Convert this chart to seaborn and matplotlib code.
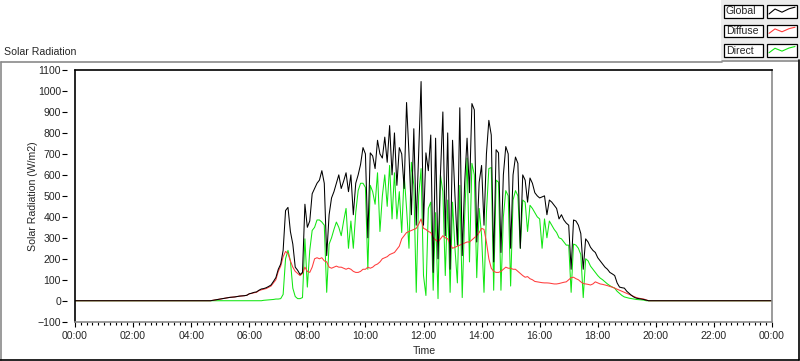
import numpy as np
import pandas as pd
import matplotlib
matplotlib.use("Agg")
import matplotlib.pyplot as plt
import seaborn as sns
from matplotlib.lines import Line2D
from matplotlib.patches import Rectangle
from matplotlib.ticker import MultipleLocator, FuncFormatter

# readings every 5 minutes from 04:40 to 19:55 (W/m2), rest of the day is 0
start_minute = 4 * 60 + 40
step_minutes = 5

global_rad = [
    0, 2, 4, 6,
    8, 10, 12, 14, 16, 17, 18, 20, 22, 23, 24, 26,                 # 05
    33, 36, 40, 42, 50, 56, 58, 62, 68, 75, 92, 110,               # 06
    150, 175, 240, 430, 445, 330, 270, 160, 145, 125, 135, 460,    # 07
    350, 380, 510, 535, 560, 575, 620, 560, 215, 410, 490, 520,    # 08
    560, 600, 535, 570, 610, 520, 600, 410, 560, 600, 650, 730,    # 09
    700, 300, 705, 690, 630, 765, 700, 680, 780, 660, 835, 600,    # 10
    800, 550, 730, 700, 535, 945, 700, 410, 820, 360, 700, 1045,   # 11
    360, 705, 620, 790, 135, 775, 200, 600, 900, 310, 800, 150,    # 12
    765, 500, 265, 920, 215, 560, 775, 515, 940, 910, 280, 565,    # 13
    645, 360, 700, 860, 790, 185, 720, 705, 230, 600, 735, 700,    # 14
    250, 600, 685, 655, 250, 600, 575, 470, 585, 560, 515, 500,    # 15
    490, 495, 500, 410, 480, 470, 455, 440, 390, 410, 385, 370,    # 16
    360, 150, 385, 380, 360, 320, 150, 295, 280, 255, 240, 230,    # 17
    205, 190, 175, 160, 150, 135, 128, 120, 85, 65, 62, 60,        # 18
    45, 35, 25, 17, 12, 10, 8, 6, 3, 0, 0, 0,                      # 19
]

diffuse_rad = [
    0, 2, 4, 6,
    8, 10, 12, 14, 16, 17, 18, 20, 22, 23, 24, 26,                 # 05
    33, 35, 38, 40, 48, 52, 55, 58, 64, 70, 85, 100,               # 06
    140, 165, 210, 235, 225, 190, 160, 140, 130, 120, 130, 160,    # 07
    140, 135, 160, 200, 205, 200, 205, 190, 185, 160, 155, 160,    # 08
    165, 160, 160, 155, 150, 155, 150, 140, 135, 135, 140, 150,    # 09
    150, 160, 155, 160, 170, 175, 185, 200, 205, 210, 220, 225,    # 10
    230, 245, 260, 295, 310, 325, 330, 335, 340, 345, 365, 390,    # 11
    345, 340, 330, 325, 300, 290, 280, 295, 310, 300, 295, 270,    # 12
    250, 255, 260, 265, 270, 275, 280, 280, 290, 300, 310, 325,    # 13
    345, 340, 280, 200, 155, 140, 135, 135, 140, 150, 160, 155,    # 14
    155, 150, 150, 140, 130, 120, 112, 115, 105, 100, 92, 90,      # 15
    88, 86, 85, 85, 84, 82, 80, 80, 82, 85, 88, 90,                # 16
    100, 110, 112, 105, 100, 90, 82, 80, 78, 75, 80, 90,           # 17
    85, 80, 78, 75, 72, 68, 65, 60, 55, 50, 45, 40,                # 18
    35, 30, 25, 20, 15, 12, 10, 8, 4, 0, 0, 0,                     # 19
]

direct_rad = [
    0, 0, 0, 0,
    0, 0, 0, 0, 0, 0, 0, 0, 0, 0, 0, 0,                            # 05
    0, 0, 0, 0, 0, 0, 2, 3, 4, 5, 6, 8,                            # 06
    8, 10, 30, 200, 240, 190, 60, 20, 10, 10, 15, 295,             # 07
    65, 240, 335, 350, 385, 385, 375, 360, 40, 270, 300, 340,      # 08
    375, 350, 310, 380, 440, 250, 380, 250, 420, 525, 560, 560,    # 09
    540, 150, 550, 520, 460, 610, 330, 500, 600, 450, 645, 390,    # 10
    610, 390, 520, 325, 600, 440, 250, 660, 550, 40, 500, 630,     # 11
    120, 25, 440, 470, 50, 420, 10, 600, 520, 120, 480, 40,        # 12
    470, 250, 85, 550, 15, 400, 680, 185, 655, 600, 110, 440,      # 13
    310, 40, 420, 630, 635, 50, 575, 565, 50, 400, 525, 500,       # 14
    70, 480, 525, 500, 250, 480, 470, 330, 455, 440, 420, 400,     # 15
    390, 250, 390, 300, 380, 360, 340, 325, 300, 295, 280, 265,    # 16
    265, 40, 270, 265, 250, 220, 15, 200, 190, 165, 150, 135,      # 17
    120, 108, 100, 90, 80, 72, 65, 60, 45, 35, 25, 18,             # 18
    15, 12, 10, 8, 6, 5, 4, 3, 0, 0, 0, 0,                         # 19
]

series_names = ["Global", "Diffuse", "Direct"]
series_colors = {"Global": "#000000", "Diffuse": "#ff3c3c", "Direct": "#12e612"}

# full day on a 5 min grid
minutes = np.arange(0, 24 * 60 + 1, step_minutes)
i0 = start_minute // step_minutes
frames = []
for name, vals in zip(series_names, [global_rad, diffuse_rad, direct_rad]):
    full = np.zeros(len(minutes))
    full[i0:i0 + len(vals)] = vals
    frames.append(pd.DataFrame({"hour": minutes / 60, "value": full, "series": name}))
df = pd.concat(frames, ignore_index=True)

sns.set_style("white")
plt.rcParams["font.family"] = ["Liberation Sans", "DejaVu Sans"]
FS = 7.6

W, H = 800, 361
fig = plt.figure(figsize=(W / 100, H / 100), dpi=100)

def fx(x):
    return x / W

def fy(y):
    return 1 - y / H

ax = fig.add_axes([fx(75), fy(321.7), fx(772) - fx(75), fy(70) - fy(321.7)])

sns.lineplot(data=df, x="hour", y="value", hue="series",
             hue_order=["Direct", "Diffuse", "Global"], palette=series_colors,
             estimator=None, linewidth=0.75, legend=False, ax=ax)

ax.set_xlim(0, 24)
ax.set_ylim(-100, 1100)
ax.xaxis.set_major_locator(MultipleLocator(2))
ax.xaxis.set_minor_locator(MultipleLocator(0.2))
ax.yaxis.set_major_locator(MultipleLocator(100))
ax.xaxis.set_major_formatter(FuncFormatter(lambda v, p: "%02d:00" % (int(round(v)) % 24)))
ax.set_xlabel("")
ax.set_ylabel("")

ax.tick_params(axis="x", which="major", direction="out", length=3.8, width=0.8,
               color="black", pad=3, labelsize=FS, bottom=True)
ax.tick_params(axis="x", which="minor", direction="out", length=2.2, width=0.8,
               color="black", bottom=True)
ax.tick_params(axis="y", which="major", direction="out", length=3.6, width=0.8,
               color="black", pad=1, labelsize=FS, left=True)

# frame: dark top/left, grey bottom/right; y ticks sit a bit away from the frame
ax.spines["left"].set_position(("outward", 5.5))
ax.spines["left"].set_color("none")
ax.spines["top"].set_color("black")
ax.spines["top"].set_linewidth(1.2)
ax.spines["bottom"].set_color("#8a8a8a")
ax.spines["right"].set_color("#8a8a8a")
ax.spines["bottom"].set_linewidth(1.2)
ax.spines["right"].set_linewidth(1.2)
ax.add_line(Line2D([0, 0], [0, 1], transform=ax.transAxes, color="black",
                   linewidth=1.2, clip_on=False))

fig.text(fx(424), fy(351), "Time", ha="center", va="center", fontsize=FS)
fig.text(fx(33), fy(196), "Solar Radiation (W/m2)", ha="center", va="center",
         rotation=90, fontsize=FS)
fig.text(fx(4), fy(52), "Solar Radiation", ha="left", va="center", fontsize=FS)

# outer panel border
fig.add_artist(Line2D([fx(0.5), fx(722)], [fy(62), fy(62)], color="#8a8a8a", linewidth=1.2))
fig.add_artist(Line2D([fx(722), fx(798)], [fy(60.5), fy(60.5)], color="#8a8a8a", linewidth=1.2))
fig.add_artist(Line2D([fx(0.6), fx(0.6)], [fy(62), fy(360)], color="#8a8a8a", linewidth=1.2))
fig.add_artist(Line2D([fx(0), fx(799)], [fy(360), fy(360)], color="black", linewidth=1.2))
fig.add_artist(Line2D([fx(798.5), fx(798.5)], [fy(60), fy(360)], color="black", linewidth=1.2))

# legend panel
fig.add_artist(Rectangle((fx(721), fy(60)), fx(800) - fx(721), fy(0) - fy(60),
                         transform=fig.transFigure, facecolor="#ececec", edgecolor="none"))
rows = [(4.7, 18.3), (25, 37.3), (44.3, 56.7)]
zig_x = [769, 775, 782, 789, 795]
zig_dy = [0.68, 0.32, 0.55, 0.3, 0.18]
for name, (top, bot) in zip(series_names, rows):
    fig.add_artist(Rectangle((fx(724), fy(bot)), fx(763) - fx(724), fy(top) - fy(bot),
                             transform=fig.transFigure, facecolor="white",
                             edgecolor="black", linewidth=0.9))
    fig.add_artist(Rectangle((fx(767), fy(bot)), fx(797) - fx(767), fy(top) - fy(bot),
                             transform=fig.transFigure, facecolor="white",
                             edgecolor="black", linewidth=0.9))
    fig.text(fx(726), fy((top + bot) / 2), name, ha="left", va="center", fontsize=FS)
    ys = [fy(top + d * (bot - top)) for d in zig_dy]
    fig.add_artist(Line2D([fx(x) for x in zig_x], ys, color=series_colors[name], linewidth=0.8))

fig.savefig("out.png", dpi=100)
